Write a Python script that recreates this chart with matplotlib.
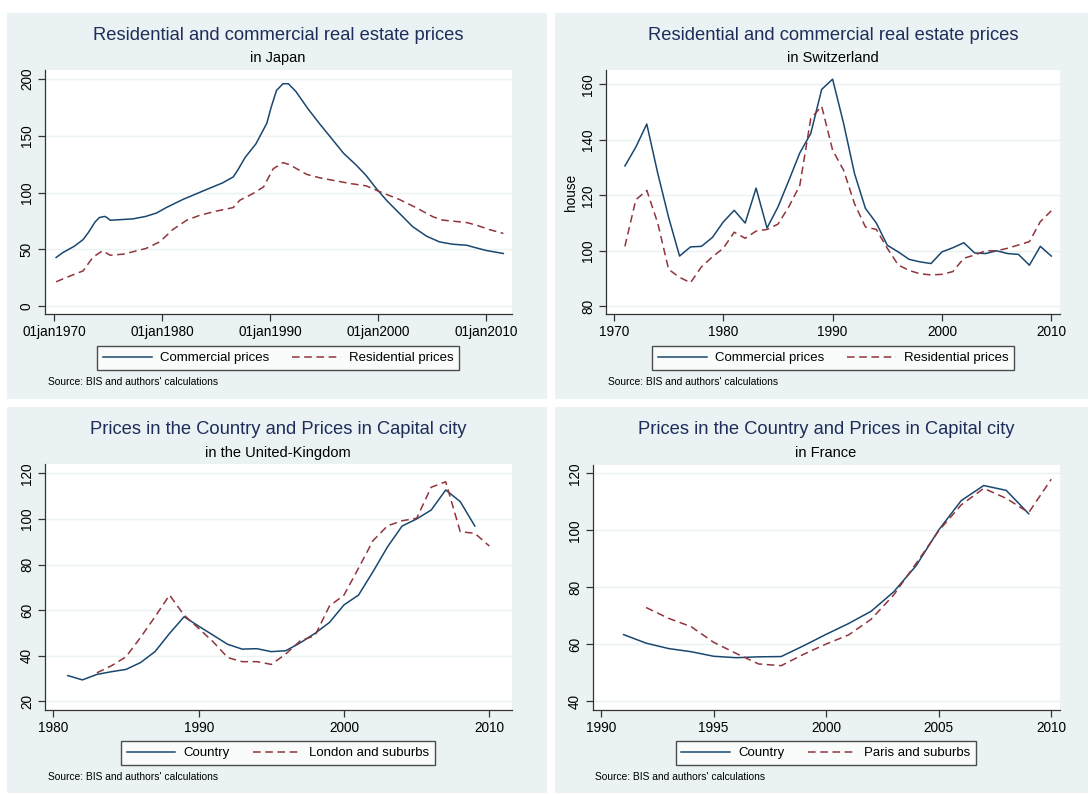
import matplotlib
matplotlib.use('Agg')
import matplotlib.pyplot as plt
from matplotlib.patches import Rectangle

plt.rcParams['font.family'] = ['Liberation Sans', 'DejaVu Sans']

W, H = 1088, 794

# ---- Japan (decimal years) ----
jp_com_x = [1970.2, 1970.8, 1971.9, 1972.7, 1973.2, 1973.8, 1974.2, 1974.7, 1974.9, 1975.2,
            1977.3, 1978.5, 1979.5, 1980.4, 1981.9, 1983.2, 1984.1, 1985.6, 1986.6, 1987.0,
            1987.7, 1988.7, 1989.7, 1990.1, 1990.6, 1991.2, 1991.7, 1992.4, 1993.5, 1994.6,
            1995.5, 1996.8, 1998.0, 1998.9, 1999.8, 2000.8, 2002.0, 2003.2, 2004.5, 2005.7,
            2006.9, 2008.2, 2008.8, 2010.0, 2011.6]
jp_com_y = [42.8, 47, 52.8, 58.6, 65, 74, 78, 79, 78, 75.6,
            76.8, 79, 82, 86.8, 93.8, 99, 102.6, 108.5, 113.8, 119.6,
            131, 143, 161, 175, 190, 195.9, 195.9, 189, 174, 160.5,
            150, 134.7, 124, 115, 104, 93, 81.5, 70, 61.5, 56.5,
            54.5, 53.6, 52, 49, 46.3]
jp_res_x = [1970.2, 1971.1, 1972.7, 1973.6, 1974.5, 1975.2, 1976.4, 1978.5, 1979.8, 1981.0,
            1982.3, 1983.5, 1985.0, 1986.6, 1987.2, 1988.4, 1989.4, 1990.3, 1991.2, 1991.8,
            1993.4, 1994.6, 1997.4, 1998.9, 2000.2, 2002.0, 2003.5, 2005.1, 2006.0, 2008.2,
            2009.1, 2010.3, 2011.6]
jp_res_y = [21.4, 25, 31, 43, 48.7, 44.8, 45.7, 50.7, 56.6, 67.4,
            75.7, 80, 83.6, 86.8, 93.2, 99, 105, 121, 126.4, 124.6,
            116, 113, 108, 105.9, 100.6, 93.8, 86.8, 78.6, 75.7, 73.6,
            71.3, 67.4, 64]

# ---- Switzerland ----
ch_years = list(range(1971, 2011))
ch_com = [130.6, 137.4, 145.7, 128, 112, 98.1, 101.4, 101.6, 104.8, 110.4,
          114.6, 110, 122.6, 108.2, 115.8, 125.4, 135.3, 142.3, 158.2, 161.9,
          146, 127.9, 115.3, 110, 102, 99.6, 96.9, 96, 95.4, 99.6,
          101.1, 102.9, 99.2, 99, 100, 99, 98.7, 94.8, 101.6, 98.1]
ch_res = [101.6, 118.4, 121.8, 110, 93.3, 90.4, 88.5, 94.2, 97.8, 100.9,
          106.7, 104.5, 107.1, 107.7, 109.6, 115.9, 123.6, 147.7, 152.1, 136.3,
          129.1, 117, 108.6, 107.7, 100.9, 94.9, 92.9, 91.7, 91.3, 91.5,
          92.5, 97.3, 98.5, 100, 100, 100.9, 102.1, 103.3, 110.5, 114.4]

# ---- United Kingdom ----
uk_cty_years = list(range(1981, 2010))
uk_cty = [31.3, 29.4, 31.8, 33, 34, 37, 41.8, 49.8, 57.1, 53,
          49, 45, 42.9, 43.1, 41.8, 42.2, 45.7, 49.8, 54.6, 62.3,
          66.6, 76.9, 87.8, 96.9, 100, 103.9, 112.7, 107.6, 96.9]
uk_cap_years = list(range(1983, 2011))
uk_cap = [32.5, 35.6, 39.5, 48, 57.1, 66.6, 57.8, 52, 46.1, 39.2,
          37.4, 37.4, 36.2, 40.8, 46.6, 48.8, 61.8, 66.6, 78.4, 90.5,
          97, 99.2, 100.3, 113.9, 116.3, 94.4, 93.7, 88.1]

# ---- France ----
fr_cty_years = list(range(1991, 2010))
fr_cty = [63.4, 60.4, 58.5, 57.4, 55.8, 55.3, 55.6, 55.7, 59.5, 63.5,
          67.3, 71.6, 78.4, 87.6, 100.1, 110.4, 115.7, 114, 105.8]
fr_cap_years = list(range(1992, 2011))
fr_cap = [72.9, 69.1, 66.2, 60.7, 56.8, 53.1, 52.5, 56.5, 60.1, 63.3,
          68.8, 77.3, 88.4, 99.8, 108.9, 114.7, 111.2, 106.2, 117.9]

BG = '#eaf2f3'
NAVY = '#1a476f'
MAROON = '#90353b'
TITLE_C = '#1e2d5a'

fig = plt.figure(figsize=(W / 100, H / 100), dpi=100)


def fx(x):
    return x / W


def fy(y):
    return 1 - y / H


def panel(x0, y0, x1, y1):
    fig.patches.append(Rectangle((fx(x0), fy(y1)), fx(x1 - x0), (y1 - y0) / H,
                                 transform=fig.transFigure, facecolor=BG,
                                 edgecolor='none', zorder=-5))


def make_axes(l, t, r, b):
    ax = fig.add_axes([fx(l), fy(b), fx(r - l), (b - t) / H])
    ax.set_facecolor('white')
    for s in ['top', 'right']:
        ax.spines[s].set_visible(False)
    for s in ['left', 'bottom']:
        ax.spines[s].set_color('#333333')
        ax.spines[s].set_linewidth(0.9)
    ax.tick_params(direction='out', length=5, width=0.9, color='#333333',
                   labelsize=9.8, pad=3)
    ax.grid(axis='y', color=BG, linewidth=1.0)
    ax.set_axisbelow(True)
    return ax


def finish(ax, cx, title, sub, ty, leg_y, src_x, src_y, labels):
    fig.text(fx(cx), fy(ty), title, ha='center', va='center', fontsize=13.2, color=TITLE_C)
    fig.text(fx(cx), fy(ty + 23), sub, ha='center', va='center', fontsize=10.5, color='black')
    plt.setp(ax.get_yticklabels(), rotation=90, va='center', ha='right')
    leg = ax.legend(labels, loc='center', bbox_to_anchor=(fx(cx), fy(leg_y)),
                    bbox_transform=fig.transFigure, ncol=2, fontsize=9.5,
                    frameon=True, fancybox=False, edgecolor='#222222',
                    handlelength=3.7, columnspacing=1.75, borderpad=0.45,
                    handletextpad=0.6)
    leg.get_frame().set_linewidth(1.0)
    fig.text(fx(src_x), fy(src_y), "Source: BIS and authors' calculations",
             ha='left', va='center', fontsize=7.4, color='black')


panel(7, 13, 547, 399)
panel(555, 13, 1088, 399)
panel(7, 407, 547, 793)
panel(555, 407, 1088, 793)

# Japan
ax1 = make_axes(45, 70, 512, 314)
ax1.plot(jp_com_x, jp_com_y, color=NAVY, lw=1.1)
ax1.plot(jp_res_x, jp_res_y, color=MAROON, lw=1.1, dashes=(5, 3))
ax1.set_xlim(1969.17, 2012.4)
ax1.set_ylim(-7, 208)
ax1.set_yticks([0, 50, 100, 150, 200])
ax1.set_xticks([1970, 1980, 1990, 2000, 2010])
ax1.set_xticklabels(['01jan1970', '01jan1980', '01jan1990', '01jan2000', '01jan2010'])
finish(ax1, 278, 'Residential and commercial real estate prices', 'in Japan',
       35, 358, 48, 382, ['Commercial prices', 'Residential prices'])

# Switzerland
ax2 = make_axes(606, 70, 1060, 314)
ax2.plot(ch_years, ch_com, color=NAVY, lw=1.1)
ax2.plot(ch_years, ch_res, color=MAROON, lw=1.1, dashes=(5, 3))
ax2.set_xlim(1969.27, 2010.8)
ax2.set_ylim(77.2, 165.2)
ax2.set_yticks([80, 100, 120, 140, 160])
ax2.set_xticks([1970, 1980, 1990, 2000, 2010])
ax2.set_ylabel('house', fontsize=9.8, labelpad=2)
finish(ax2, 833, 'Residential and commercial real estate prices', 'in Switzerland',
       35, 358, 608, 382, ['Commercial prices', 'Residential prices'])

# United Kingdom
ax3 = make_axes(45, 464, 512, 710)
ax3.plot(uk_cty_years, uk_cty, color=NAVY, lw=1.1)
ax3.plot(uk_cap_years, uk_cap, color=MAROON, lw=1.1, dashes=(5, 3))
ax3.set_xlim(1979.43, 2011.56)
ax3.set_ylim(16.2, 124.1)
ax3.set_yticks([20, 40, 60, 80, 100, 120])
ax3.set_xticks([1980, 1990, 2000, 2010])
finish(ax3, 278, 'Prices in the Country and Prices in Capital city', 'in the United-Kingdom',
       430, 753, 48, 777, ['Country', 'London and suburbs'])

# France
ax4 = make_axes(593, 465, 1060, 710)
ax4.plot(fr_cty_years, fr_cty, color=NAVY, lw=1.1)
ax4.plot(fr_cap_years, fr_cap, color=MAROON, lw=1.1, dashes=(5, 3))
ax4.set_xlim(1989.64, 2010.39)
ax4.set_ylim(36.95, 122.9)
ax4.set_yticks([40, 60, 80, 100, 120])
ax4.set_xticks([1990, 1995, 2000, 2005, 2010])
finish(ax4, 826, 'Prices in the Country and Prices in Capital city', 'in France',
       430, 753, 595, 777, ['Country', 'Paris and suburbs'])

fig.savefig('out.png', dpi=100)
